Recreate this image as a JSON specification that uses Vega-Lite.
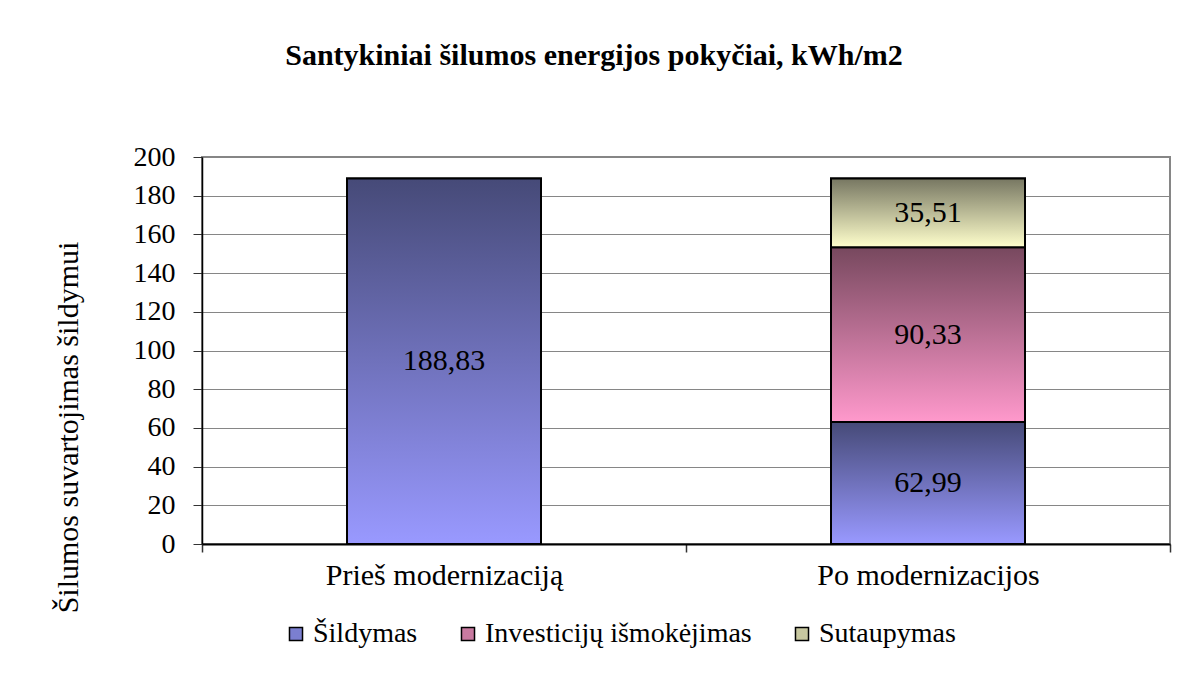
{
  "$schema": "https://vega.github.io/schema/vega-lite/v6.json",
  "autosize": "none",
  "width": 968,
  "height": 387,
  "padding": {"left": 202, "top": 157, "right": 21, "bottom": 133},
  "background": "white",
  "config": {
    "font": "Liberation Serif",
    "view": {"stroke": "#868686", "strokeWidth": 2},
    "locale": {"number": {"decimal": ",", "thousands": " ", "grouping": [3], "currency": ["", ""]}},
    "axisY": {
      "labelOverlap": false,
      "titleFont": "Liberation Serif",
      "titleFontSize": 30,
      "titleFontWeight": "normal",
      "titleColor": "black",
      "titleAngle": -90,
      "titleX": -134,
      "titleY": 270,
      "titleAlign": "center",
      "titleBaseline": "middle",
      "titleLimit": 0,
      "labelFont": "Liberation Serif",
      "labelFontSize": 28,
      "labelColor": "black",
      "labelPadding": 18,
      "domainColor": "black",
      "domainWidth": 1.5,
      "tickColor": "#333333",
      "tickSize": 9,
      "gridColor": "#868686",
      "gridWidth": 1
    }
  },
  "title": {
    "text": "Santykiniai šilumos energijos pokyčiai, kWh/m2",
    "font": "Liberation Serif",
    "fontSize": 30,
    "fontWeight": "bold",
    "color": "black",
    "anchor": "middle",
    "frame": "group",
    "baseline": "alphabetic",
    "offset": 48,
    "dx": -92
  },
  "data": {
    "values": [
      {"category": "Prieš modernizaciją", "series": "Šildymas", "order": 1, "value": 188.83},
      {"category": "Po modernizacijos", "series": "Šildymas", "order": 1, "value": 62.99},
      {"category": "Po modernizacijos", "series": "Investicijų išmokėjimas", "order": 2, "value": 90.33},
      {"category": "Po modernizacijos", "series": "Sutaupymas", "order": 3, "value": 35.51}
    ]
  },
  "transform": [
    {"stack": "value", "groupby": ["category"], "sort": [{"field": "order"}], "as": ["y0", "y1"]},
    {"calculate": "(datum.y0 + datum.y1) / 2", "as": "ymid"}
  ],
  "encoding": {
    "x": {
      "field": "category",
      "type": "nominal",
      "sort": ["Prieš modernizaciją", "Po modernizacijos"],
      "scale": {"paddingInner": 0, "paddingOuter": 0},
      "axis": {
        "title": null,
        "labelAngle": 0,
        "labelFont": "Liberation Serif",
        "labelFontSize": 30,
        "labelColor": "black",
        "labelPadding": 8,
        "labelLimit": 0,
        "domainColor": "black",
        "domainWidth": 2,
        "tickColor": "#333333",
        "tickWidth": 1.5,
        "tickSize": 8,
        "tickBand": "extent",
        "grid": false
      }
    }
  },
  "layer": [
    {
      "mark": {"type": "bar", "size": 194, "stroke": "black", "strokeWidth": 2, "opacity": 1},
      "encoding": {
        "y": {
          "field": "y0",
          "type": "quantitative",
          "scale": {"domain": [0, 200], "nice": false},
          "axis": {"values": [0, 20, 40, 60, 80, 100, 120, 140, 160, 180, 200], "title": "Šilumos suvartojimas šildymui"}
        },
        "y2": {"field": "y1"},
        "color": {
          "field": "series",
          "type": "nominal",
          "sort": ["Šildymas", "Investicijų išmokėjimas", "Sutaupymas"],
          "scale": {
            "domain": ["Šildymas", "Investicijų išmokėjimas", "Sutaupymas"],
            "range": ["#7b7fd0", "#c87aa0", "#c8c8a0"]
          },
          "legend": {
            "title": null,
            "orient": "none",
            "legendX": 80,
            "legendY": 463,
            "direction": "horizontal",
            "symbolType": "square",
            "symbolSize": 170,
            "symbolStrokeColor": "black",
            "symbolStrokeWidth": 1.5,
            "symbolOpacity": 1,
            "labelFont": "Liberation Serif",
            "labelFontSize": 28,
            "labelColor": "black",
            "labelOffset": 3,
            "labelLimit": 0,
            "columnPadding": 36
          }
        }
      }
    },
    {
      "transform": [{"filter": "datum.series === 'Šildymas'"}],
      "mark": {"type": "bar", "size": 194, "stroke": "black", "strokeWidth": 2, "opacity": 1,
        "color": {"gradient": "linear", "x1": 0, "y1": 1, "x2": 0, "y2": 0, "stops": [{"offset": 0, "color": "#9999ff"}, {"offset": 1, "color": "#464a78"}]}},
      "encoding": {
        "y": {"field": "y0", "type": "quantitative", "axis": {"values": [0, 20, 40, 60, 80, 100, 120, 140, 160, 180, 200], "title": "Šilumos suvartojimas šildymui"}},
        "y2": {"field": "y1"}
      }
    },
    {
      "transform": [{"filter": "datum.series === 'Investicijų išmokėjimas'"}],
      "mark": {"type": "bar", "size": 194, "stroke": "black", "strokeWidth": 2, "opacity": 1,
        "color": {"gradient": "linear", "x1": 0, "y1": 1, "x2": 0, "y2": 0, "stops": [{"offset": 0, "color": "#ff99cc"}, {"offset": 1, "color": "#77485e"}]}},
      "encoding": {
        "y": {"field": "y0", "type": "quantitative", "axis": {"values": [0, 20, 40, 60, 80, 100, 120, 140, 160, 180, 200], "title": "Šilumos suvartojimas šildymui"}},
        "y2": {"field": "y1"}
      }
    },
    {
      "transform": [{"filter": "datum.series === 'Sutaupymas'"}],
      "mark": {"type": "bar", "size": 194, "stroke": "black", "strokeWidth": 2, "opacity": 1,
        "color": {"gradient": "linear", "x1": 0, "y1": 1, "x2": 0, "y2": 0, "stops": [{"offset": 0, "color": "#ffffcc"}, {"offset": 1, "color": "#777762"}]}},
      "encoding": {
        "y": {"field": "y0", "type": "quantitative", "axis": {"values": [0, 20, 40, 60, 80, 100, 120, 140, 160, 180, 200], "title": "Šilumos suvartojimas šildymui"}},
        "y2": {"field": "y1"}
      }
    },
    {
      "mark": {"type": "text", "font": "Liberation Serif", "fontSize": 30, "color": "black", "baseline": "middle", "align": "center"},
      "encoding": {
        "y": {"field": "ymid", "type": "quantitative", "axis": {"values": [0, 20, 40, 60, 80, 100, 120, 140, 160, 180, 200], "title": "Šilumos suvartojimas šildymui"}},
        "text": {"field": "value", "type": "quantitative", "format": ".2f"}
      }
    }
  ]
}
